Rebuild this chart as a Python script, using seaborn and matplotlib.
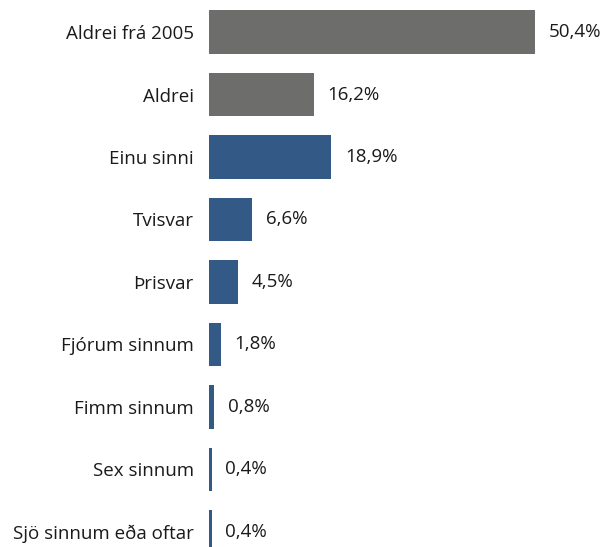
import matplotlib.pyplot as plt
import numpy as np, pandas as pd
import seaborn as sns

categories = ["Aldrei frá 2005", "Aldrei", "Einu sinni", "Tvisvar", "Þrisvar",
              "Fjórum sinnum", "Fimm sinnum", "Sex sinnum", "Sjö sinnum eða oftar"]
values = [50.4, 16.2, 18.9, 6.6, 4.5, 1.8, 0.8, 0.4, 0.4]
groups = ["never"] * 2 + ["times"] * 7
palette = {"never": "#6d6d6b", "times": "#335a87"}

df = pd.DataFrame(dict(cat=categories, val=values, grp=groups))

sns.set_style("white")
plt.rcParams["font.family"] = ["Open Sans", "DejaVu Sans"]

W, H = 609, 547
fig = plt.figure(figsize=(W / 100, H / 100), dpi=100)
ax = fig.add_axes([209 / W, 0, 400 / W, 1])

sns.barplot(data=df, y="cat", x="val", hue="grp", palette=palette, dodge=False,
            width=0.69, legend=False, ax=ax, order=categories,
            saturation=1, linewidth=0)

px_per_unit = (535 - 209) / 50.4
ax.set_xlim(0, 400 / px_per_unit)
ax.set_ylim(8 + 15 / 62.5, -32 / 62.5)

for i, v in enumerate(values):
    lab = f"{v:.1f}%".replace(".", ",")
    ax.annotate(lab, (v, i), xytext=(10, 0), textcoords="offset points",
                ha="left", va="center", fontsize=13.5, color="#1a1a1a")

ax.set_xlabel("")
ax.set_ylabel("")
ax.set_xticks([])
ax.tick_params(axis="y", length=0, pad=11, labelsize=13.5, labelcolor="#1a1a1a")
for s in ax.spines.values():
    s.set_visible(False)

fig.savefig("out.png", dpi=100)
